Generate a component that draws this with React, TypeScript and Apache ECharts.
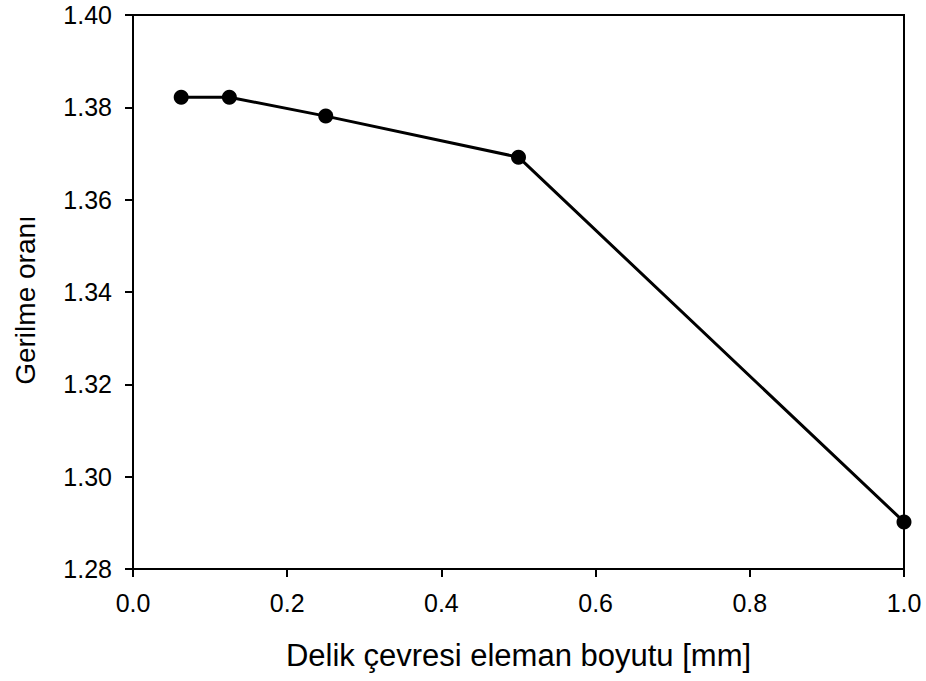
import React, { useEffect, useRef } from "react";
import * as echarts from "echarts";

const xValues = [0.0625, 0.125, 0.25, 0.5, 1.0];
const yValues = [1.3822, 1.3822, 1.3781, 1.3692, 1.2902];
const xTitle = "Delik çevresi eleman boyutu [mm]";
const yTitle = "Gerilme oranı";

export default function App() {
  const ref = useRef<HTMLDivElement>(null);
  useEffect(() => {
    if (!ref.current) return;
    const chart = echarts.init(ref.current, null, { renderer: "svg" });
    const font = "Liberation Sans, Arial, sans-serif";
    const axisLine = { show: true, lineStyle: { color: "#000", width: 2 } };
    chart.setOption({
      animation: false,
      backgroundColor: "#fff",
      grid: {
        left: 133,
        top: 15,
        right: 22,
        bottom: 112,
        show: true,
        borderColor: "#000",
        borderWidth: 2,
        backgroundColor: "transparent",
      },
      graphic: [
        {
          type: "text",
          x: 25,
          y: 300,
          rotation: Math.PI / 2,
          style: {
            text: yTitle,
            fill: "#000",
            fontSize: 28,
            fontFamily: font,
            align: "center",
            verticalAlign: "middle",
          },
        },
      ],
      xAxis: {
        type: "value",
        min: 0,
        max: 1,
        interval: 0.2,
        name: xTitle,
        nameLocation: "middle",
        nameGap: 71,
        nameTextStyle: { color: "#000", fontSize: 31, fontFamily: font },
        axisLine,
        axisTick: { show: true, inside: false, length: 8, lineStyle: { color: "#000", width: 2 } },
        axisLabel: {
          color: "#000",
          fontSize: 25,
          fontFamily: font,
          margin: 21,
          formatter: (v: number) => v.toFixed(1),
        },
        splitLine: { show: false },
      },
      yAxis: {
        type: "value",
        min: 1.28,
        max: 1.4,
        interval: 0.02,
        axisLine,
        axisTick: { show: true, inside: false, length: 8, lineStyle: { color: "#000", width: 2 } },
        axisLabel: {
          color: "#000",
          fontSize: 25,
          fontFamily: font,
          margin: 21,
          formatter: (v: number) => v.toFixed(2),
        },
        splitLine: { show: false },
      },
      series: [
        {
          type: "line",
          data: xValues.map((x, i) => [x, yValues[i]]),
          symbol: "circle",
          symbolSize: 15,
          showSymbol: true,
          lineStyle: { color: "#000", width: 3 },
          itemStyle: { color: "#000" },
          clip: false,
        },
      ],
    });
    return () => chart.dispose();
  }, []);
  return <div ref={ref} style={{ width: 926, height: 681, position: "absolute", left: 0, top: 0 }} />;
}
